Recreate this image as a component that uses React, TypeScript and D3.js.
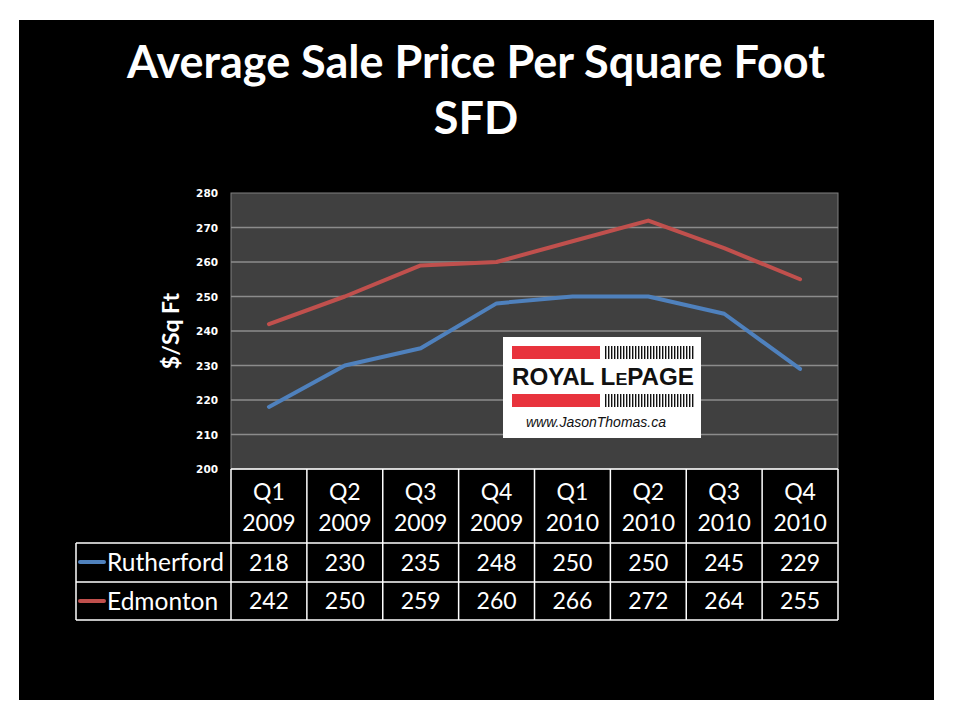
import React from "react";
import * as d3 from "d3";

const quarters = ["Q1", "Q2", "Q3", "Q4", "Q1", "Q2", "Q3", "Q4"];
const years = ["2009", "2009", "2009", "2009", "2010", "2010", "2010", "2010"];
const rutherford = [218, 230, 235, 248, 250, 250, 245, 229];
const edmonton = [242, 250, 259, 260, 266, 272, 264, 255];
const yTicks = [200, 210, 220, 230, 240, 250, 260, 270, 280];
const seriesNames = ["Rutherford", "Edmonton"];
const seriesColors = ["#4f81bd", "#c0504d"];

const W = 960;
const H = 720;
const plot = { left: 231, right: 838, top: 193, bottom: 469 };
const tableLeft = 76;
const rowLines = [469, 543, 582, 620];
const FONT = "Lato, 'Open Sans', sans-serif";

export default function App() {
  const cats = quarters.map((q, i) => `${q} ${years[i]}`);
  const x = d3.scaleBand<string>().domain(cats).range([plot.left, plot.right]);
  const y = d3.scaleLinear().domain([200, 280]).range([plot.bottom, plot.top]);
  const line = d3
    .line<number>()
    .x((_, i) => (x(cats[i]) as number) + x.bandwidth() / 2)
    .y((d) => y(d));
  const series = [rutherford, edmonton];

  const colEdges = cats.map((c) => x(c) as number).concat([plot.right]);

  return (
    <svg
      width={W}
      height={H}
      style={{ position: "absolute", left: 0, top: 0, background: "#fff" }}
    >
      <rect x={19} y={20} width={915} height={680} fill="#000" />
      <text
        x={476}
        y={78}
        textAnchor="middle"
        fill="#fff"
        fontFamily={FONT}
        fontWeight="bold"
        fontSize={45}
      >
        Average Sale Price Per Square Foot
      </text>
      <text
        x={476}
        y={134}
        textAnchor="middle"
        fill="#fff"
        fontFamily={FONT}
        fontWeight="bold"
        fontSize={45}
      >
        SFD
      </text>

      {/* plot area */}
      <rect
        x={plot.left}
        y={plot.top}
        width={plot.right - plot.left}
        height={plot.bottom - plot.top}
        fill="#404040"
        stroke="#808080"
        strokeWidth={1}
      />
      {yTicks.map((t) => (
        <g key={t}>
          {t > 200 && t < 280 && (
            <line
              x1={plot.left}
              x2={plot.right}
              y1={y(t)}
              y2={y(t)}
              stroke="#8c8c8c"
              strokeWidth={1.5}
            />
          )}
          <text
            x={218}
            y={y(t) + 4}
            textAnchor="end"
            fill="#fff"
            fontFamily="'DejaVu Sans', sans-serif"
            fontWeight="bold"
            fontSize={10.5}
          >
            {t}
          </text>
        </g>
      ))}
      <text
        transform={`translate(179,331) rotate(-90)`}
        textAnchor="middle"
        fill="#fff"
        fontFamily={FONT}
        fontWeight="bold"
        fontSize={23}
      >
        $/Sq Ft
      </text>

      {/* logo */}
      <g>
        <rect x={503} y={337} width={198} height={101} fill="#fff" />
        <rect x={512} y={346} width={88} height={13} fill="#e8333d" />
        <rect x={512} y={394} width={88} height={13} fill="#e8333d" />
        {d3.range(0, 30).map((i) => (
          <g key={i}>
            <rect x={605 + i * 3} y={346} width={1.4} height={13} fill="#111" />
            <rect x={605 + i * 3} y={394} width={1.4} height={13} fill="#111" />
          </g>
        ))}
        <text
          x={603}
          y={385}
          textAnchor="middle"
          fill="#111"
          fontFamily="'Liberation Sans', Arial, sans-serif"
          fontWeight="bold"
          fontSize={23}
          textLength={182}
          lengthAdjust="spacingAndGlyphs"
        >
          ROYAL L<tspan fontSize={17}>E</tspan>PAGE
        </text>
        <text
          x={596}
          y={427}
          textAnchor="middle"
          fill="#111"
          fontFamily="'Liberation Sans', Arial, sans-serif"
          fontStyle="italic"
          fontSize={14}
        >
          www.JasonThomas.ca
        </text>
      </g>

      {/* lines */}
      {series.map((s, i) => (
        <path
          key={i}
          d={line(s) || ""}
          fill="none"
          stroke={seriesColors[i]}
          strokeWidth={4}
          strokeLinejoin="round"
          strokeLinecap="round"
        />
      ))}

      {/* table */}
      <g stroke="#fff" strokeWidth={1.5} fill="none">
        <line x1={plot.left} x2={plot.right} y1={rowLines[0]} y2={rowLines[0]} />
        {rowLines.slice(1).map((r) => (
          <line key={r} x1={tableLeft} x2={plot.right} y1={r} y2={r} />
        ))}
        {colEdges.map((c, i) => (
          <line key={i} x1={c} x2={c} y1={rowLines[0]} y2={rowLines[3]} />
        ))}
        <line x1={tableLeft} x2={tableLeft} y1={rowLines[1]} y2={rowLines[3]} />
      </g>
      {cats.map((c, i) => {
        const cx = (x(c) as number) + x.bandwidth() / 2;
        return (
          <g key={c} fill="#fff" fontFamily={FONT} fontSize={23} textAnchor="middle">
            <text x={cx} y={500}>{quarters[i]}</text>
            <text x={cx} y={531}>{years[i]}</text>
            <text x={cx} y={571}>{rutherford[i]}</text>
            <text x={cx} y={609}>{edmonton[i]}</text>
          </g>
        );
      })}
      {seriesNames.map((n, i) => {
        const cy = i === 0 ? 562 : 601;
        return (
          <g key={n}>
            <line
              x1={80}
              x2={104}
              y1={cy}
              y2={cy}
              stroke={seriesColors[i]}
              strokeWidth={4}
              strokeLinecap="round"
            />
            <text
              x={107}
              y={cy + 9}
              fill="#fff"
              fontFamily={FONT}
              fontSize={24.5}
            >
              {n}
            </text>
          </g>
        );
      })}
    </svg>
  );
}
